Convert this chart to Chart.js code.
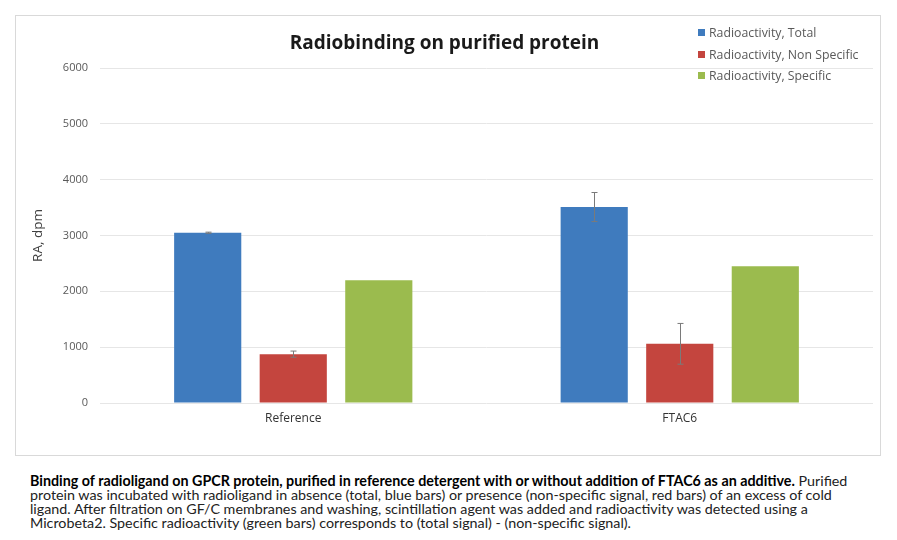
<!DOCTYPE html>
<html>
<head>
<meta charset="utf-8">
<script src="https://cdn.jsdelivr.net/npm/chart.js@4"></script>
<style>
  html, body { margin: 0; padding: 0; background: #fff; }
  body { width: 897px; height: 540px; position: relative; overflow: hidden; }
  #frame { position: absolute; left: 15px; top: 15px; width: 866px; height: 441px; border: 1px solid #d9d9d9; box-sizing: border-box; }
  #wrap { position: absolute; left: 16px; top: 16px; width: 865px; height: 439px; }
  #legend { position: absolute; left: 698px; top: 24px; font-family: "Open Sans", sans-serif; font-size: 12.3px; color: #595959; }
  #legend .item { height: 21.5px; line-height: 17px; white-space: nowrap; }
  #legend .sw { display: inline-block; width: 7px; height: 7px; margin-right: 4px; vertical-align: 1px; }
  #caption { position: absolute; left: 30px; top: 474px; width: 836px; font-family: "Lato", sans-serif; font-size: 14.3px; line-height: 14px; color: #222; }
  #caption b { color: #000; }
</style>
</head>
<body>
<div id="frame"></div>
<div id="wrap"><canvas id="c"></canvas></div>
<div id="legend"></div>
<div id="caption"><b>Binding of radioligand on GPCR protein, purified in reference detergent with or without addition of FTAC6 as an additive.</b> Purified protein was incubated with radioligand in absence (total, blue bars) or presence (non-specific signal, red bars) of an excess of cold ligand. After filtration on GF/C membranes and washing, scintillation agent was added and radioactivity was detected using a Microbeta2. Specific radioactivity (green bars) corresponds to (total signal) - (non-specific signal).</div>
<script>
const categories = ["Reference", "FTAC6"];
const seriesNames = ["Radioactivity, Total", "Radioactivity, Non Specific", "Radioactivity, Specific"];
const totalValues = [3050, 3510];
const totalErrors = [10, 260];
const nonSpecificValues = [875, 1060];
const nonSpecificErrors = [55, 365];
const specificValues = [2200, 2450];
const specificErrors = [0, 0];
const yTicks = [0, 1000, 2000, 3000, 4000, 5000, 6000];
const colors = ["#3F7BBE", "#C4453E", "#9BBB4E"];

const seriesValues = [totalValues, nonSpecificValues, specificValues];
const seriesErrors = [totalErrors, nonSpecificErrors, specificErrors];

// HTML legend
const legendEl = document.getElementById('legend');
seriesNames.forEach((n, i) => {
  const d = document.createElement('div');
  d.className = 'item';
  d.innerHTML = '<span class="sw" style="background:' + colors[i] + '"></span>' + n;
  legendEl.appendChild(d);
});

const errorBarPlugin = {
  id: 'errorBars',
  afterDatasetsDraw(chart) {
    const ctx = chart.ctx;
    const y = chart.scales.y;
    ctx.save();
    ctx.strokeStyle = '#7a7a7a';
    ctx.lineWidth = 1;
    chart.data.datasets.forEach((ds, di) => {
      const meta = chart.getDatasetMeta(di);
      meta.data.forEach((bar, i) => {
        const err = ds.errors[i];
        if (!err) return;
        const v = ds.data[i];
        const yTop = y.getPixelForValue(v + err);
        const yBot = y.getPixelForValue(v - err);
        const x = Math.round(bar.x) + 0.5;
        ctx.beginPath();
        ctx.moveTo(x, yTop); ctx.lineTo(x, yBot);
        ctx.moveTo(x - 3, yTop); ctx.lineTo(x + 3, yTop);
        ctx.moveTo(x - 3, yBot); ctx.lineTo(x + 3, yBot);
        ctx.stroke();
      });
    });
    ctx.restore();
  }
};

new Chart(document.getElementById('c'), {
  type: 'bar',
  data: {
    labels: categories,
    datasets: seriesNames.map((n, i) => ({
      label: n,
      data: seriesValues[i],
      errors: seriesErrors[i],
      backgroundColor: colors[i],
      borderWidth: 0,
      categoryPercentage: 0.664,
      barPercentage: 0.785
    }))
  },
  options: {
    responsive: true,
    maintainAspectRatio: false,
    animation: false,
    layout: { padding: { left: 0, right: 8, top: 0, bottom: 0 } },
    plugins: {
      legend: { display: false },
      tooltip: { enabled: false },
      title: {
        display: true,
        text: 'Radiobinding on purified protein',
        color: '#1a1a1a',
        font: { family: 'Open Sans', size: 19, weight: 'bold' },
        padding: { top: 16, bottom: 13.2 }
      }
    },
    scales: {
      x: {
        grid: { display: false },
        border: { display: false },
        ticks: { color: '#333', font: { family: 'Open Sans', size: 12 }, padding: 0 },
        afterFit(scale) { scale.height = 52; }
      },
      y: {
        min: 0, max: 6000,
        afterBuildTicks(scale) { scale.ticks = yTicks.map(v => ({ value: v })); },
        grid: { color: '#e6e6e6', drawTicks: false },
        border: { display: false },
        ticks: { color: '#595959', font: { family: 'Open Sans', size: 11 }, padding: 12, callback: (v) => String(v) },
        title: { display: true, text: 'RA, dpm', color: '#404040', font: { family: 'Open Sans', size: 13.5 }, padding: { top: 14, bottom: 0 } },
        afterFit(scale) { scale.width = 84; }
      }
    }
  },
  plugins: [errorBarPlugin]
});
</script>
</body>
</html>
